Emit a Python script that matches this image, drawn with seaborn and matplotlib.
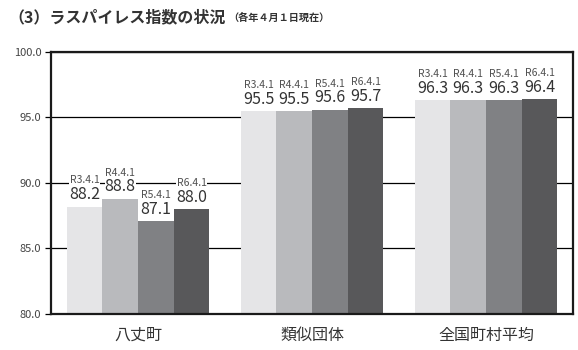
import matplotlib
matplotlib.use("Agg")
import matplotlib.pyplot as plt
import seaborn as sns
import pandas as pd

# Laspeyres index by group and survey date (April 1 of each year)
groups = ["八丈町", "類似団体", "全国町村平均"]
dates = ["R3.4.1", "R4.4.1", "R5.4.1", "R6.4.1"]
hachijo = [88.2, 88.8, 87.1, 88.0]
similar = [95.5, 95.5, 95.6, 95.7]
national = [96.3, 96.3, 96.3, 96.4]
yticks = [80.0, 85.0, 90.0, 95.0, 100.0]

colors = ["#e5e5e7", "#b9babd", "#808184", "#58585a"]

rows = []
for g, vals in zip(groups, [hachijo, similar, national]):
    for d, v in zip(dates, vals):
        rows.append({"group": g, "date": d, "value": v})
df = pd.DataFrame(rows)

sns.set_style("white")
plt.rcParams["font.family"] = ["Noto Sans CJK JP", "DejaVu Sans"]

fig = plt.figure(figsize=(5.78, 3.5), dpi=100)
ax = fig.add_axes([51 / 578, 1 - 314 / 350, 522 / 578, 262 / 350])

sns.barplot(data=df, x="group", y="value", hue="date", order=groups,
            hue_order=dates, palette=colors, width=0.82, saturation=1,
            edgecolor="none", linewidth=0, legend=False, ax=ax)

ax.set_ylim(yticks[0], yticks[-1])
ax.set_xlim(-0.5, 2.5)
ax.set_yticks(yticks)
ax.set_yticklabels([f"{t:.1f}" for t in yticks])
ax.set_axisbelow(True)
ax.yaxis.grid(True, color="black", linewidth=0.9)
ax.xaxis.grid(False)
ax.set_xlabel("")
ax.set_ylabel("")

for s in ax.spines.values():
    s.set_visible(True)
    s.set_color("#1a1a1a")
    s.set_linewidth(1.6)

ax.tick_params(axis="y", direction="out", length=4, width=0.9, color="black",
               labelsize=8, labelcolor="#444444", pad=3, left=True)
ax.tick_params(axis="x", length=0, labelsize=11.5, labelcolor="#333333", pad=9)

# value labels: survey date (small) above the index value, on white boxes
for container, d in zip(ax.containers, dates):
    for bar, g in zip(container, groups):
        v = df[(df.group == g) & (df.date == d)].value.iloc[0]
        cx = bar.get_x() + bar.get_width() / 2
        ax.annotate(d, (cx, v), xytext=(0, 18.8), textcoords="offset points",
                    ha="center", va="center", fontsize=7.5, color="#505050",
                    zorder=5,
                    bbox=dict(boxstyle="square,pad=0.1", fc="white", ec="none"))
        ax.annotate(f"{v:.1f}", (cx, v), xytext=(0, 8.6), textcoords="offset points",
                    ha="center", va="center", fontsize=11.5, color="#333333",
                    zorder=6,
                    bbox=dict(boxstyle="square,pad=0.0", fc="white", ec="none"))

fig.text(8 / 578, 1 - 17 / 350, "（3）ラスパイレス指数の状況", fontsize=11.5,
         fontweight="bold", color="#333333", ha="left", va="center")
fig.text(228 / 578, 1 - 18 / 350, "（各年４月１日現在）", fontsize=7.3,
         fontweight="bold", color="#333333", ha="left", va="center")

fig.savefig("out.png", dpi=100)
